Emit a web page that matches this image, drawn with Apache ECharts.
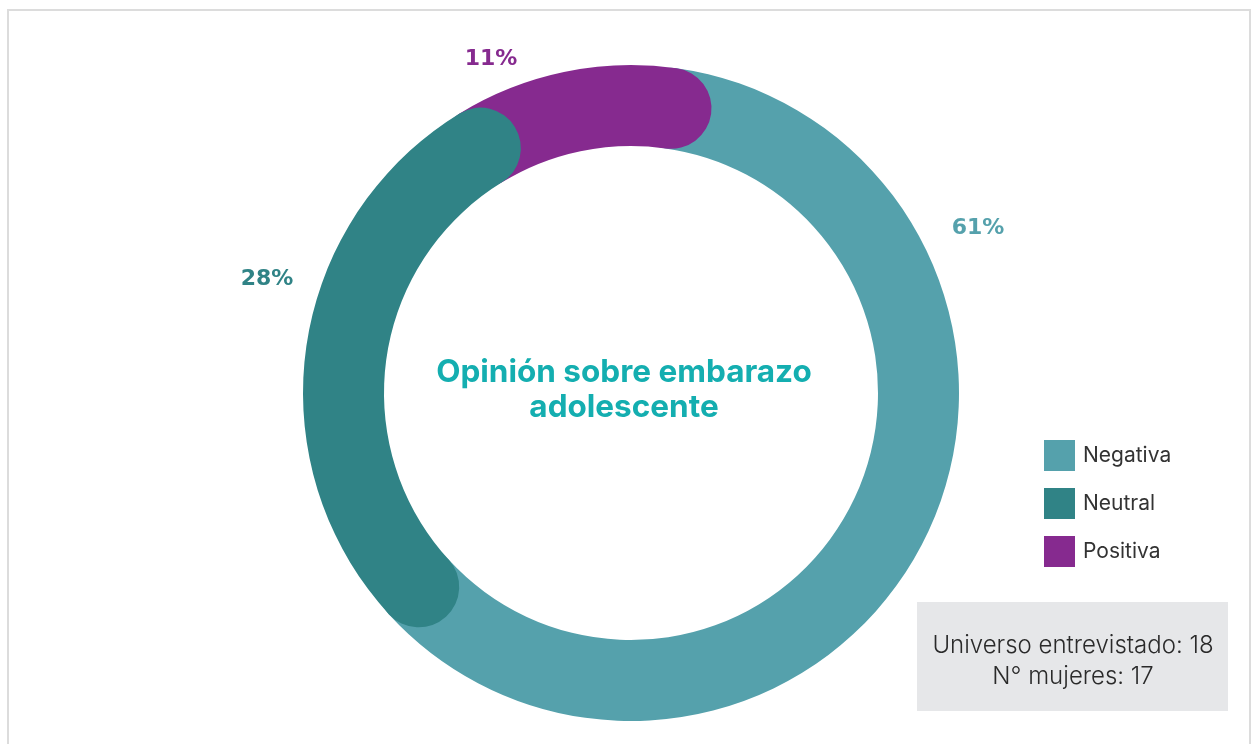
<!DOCTYPE html>
<html>
<head>
<meta charset="utf-8">
<script src="https://cdn.jsdelivr.net/npm/echarts@6/dist/echarts.min.js"></script>
<style>
  html, body { margin: 0; padding: 0; background: #ffffff; }
  #chart { width: 1253px; height: 744px; }
</style>
</head>
<body>
<div id="chart"></div>
<script>
// ---- data ----
const categories = ['Negativa', 'Neutral', 'Positiva'];
const values = [61, 28, 11];
const chartTitle = 'Opinión sobre embarazo\nadolescente';
const infoLines = ['Universo entrevistado: 18', 'N° mujeres: 17'];

// ---- styles ----
const palette = ['#55A1AC', '#308386', '#862A8F'];
const zOrder = [2, 4, 3];
const labelPos = [[978, 228], [267, 279], [491, 59]];

const chart = echarts.init(document.getElementById('chart'), null, { renderer: 'canvas' });

const series = categories.map((name, i) => ({
  name: name,
  type: 'bar',
  coordinateSystem: 'polar',
  stack: 'ring',
  roundCap: true,
  barWidth: '100%',
  z: zOrder[i],
  itemStyle: { color: palette[i] },
  data: [values[i]],
  animation: false
}));

const graphics = [
  { type: 'rect', shape: { x: 8, y: 10, width: 1242, height: 760 },
    style: { fill: 'none', stroke: '#DCDCDC', lineWidth: 2 }, silent: true, z: 0 },
  { type: 'text', style: { text: chartTitle, x: 624, y: 390, textAlign: 'center', textVerticalAlign: 'middle',
      font: '700 31.5px Inter', lineHeight: 35, fill: '#14AEB0' }, z: 10 },
  { type: 'rect', shape: { x: 917, y: 602, width: 311, height: 109 },
    style: { fill: '#E6E7E9' }, z: 10 },
  { type: 'text', style: { text: infoLines.join('\n'), x: 1073, y: 661, textAlign: 'center', textVerticalAlign: 'middle',
      font: '300 24px Inter', lineHeight: 31, fill: '#2A2A2A' }, z: 11 }
];
categories.forEach((name, i) => {
  graphics.push({ type: 'text', style: { text: values[i] + '%', x: labelPos[i][0], y: labelPos[i][1],
    textAlign: 'center', textVerticalAlign: 'middle', font: 'bold 22px "DejaVu Sans"', fill: palette[i] }, z: 10 });
});

chart.setOption({
  animation: false,
  polar: { center: [631, 393], radius: [247, 328] },
  angleAxis: { type: 'value', min: 0, max: 100, startAngle: 82, clockwise: true, show: false },
  radiusAxis: { type: 'category', data: ['ring'], show: false },
  legend: {
    orient: 'vertical', left: 1044, top: 440, padding: 0, itemWidth: 31, itemHeight: 31, itemGap: 17,
    icon: 'rect', data: categories,
    textStyle: { fontSize: 21, color: '#333333', fontFamily: 'Inter', padding: [0, 0, 0, 3] }
  },
  graphic: graphics,
  series: series
});
</script>
</body>
</html>
